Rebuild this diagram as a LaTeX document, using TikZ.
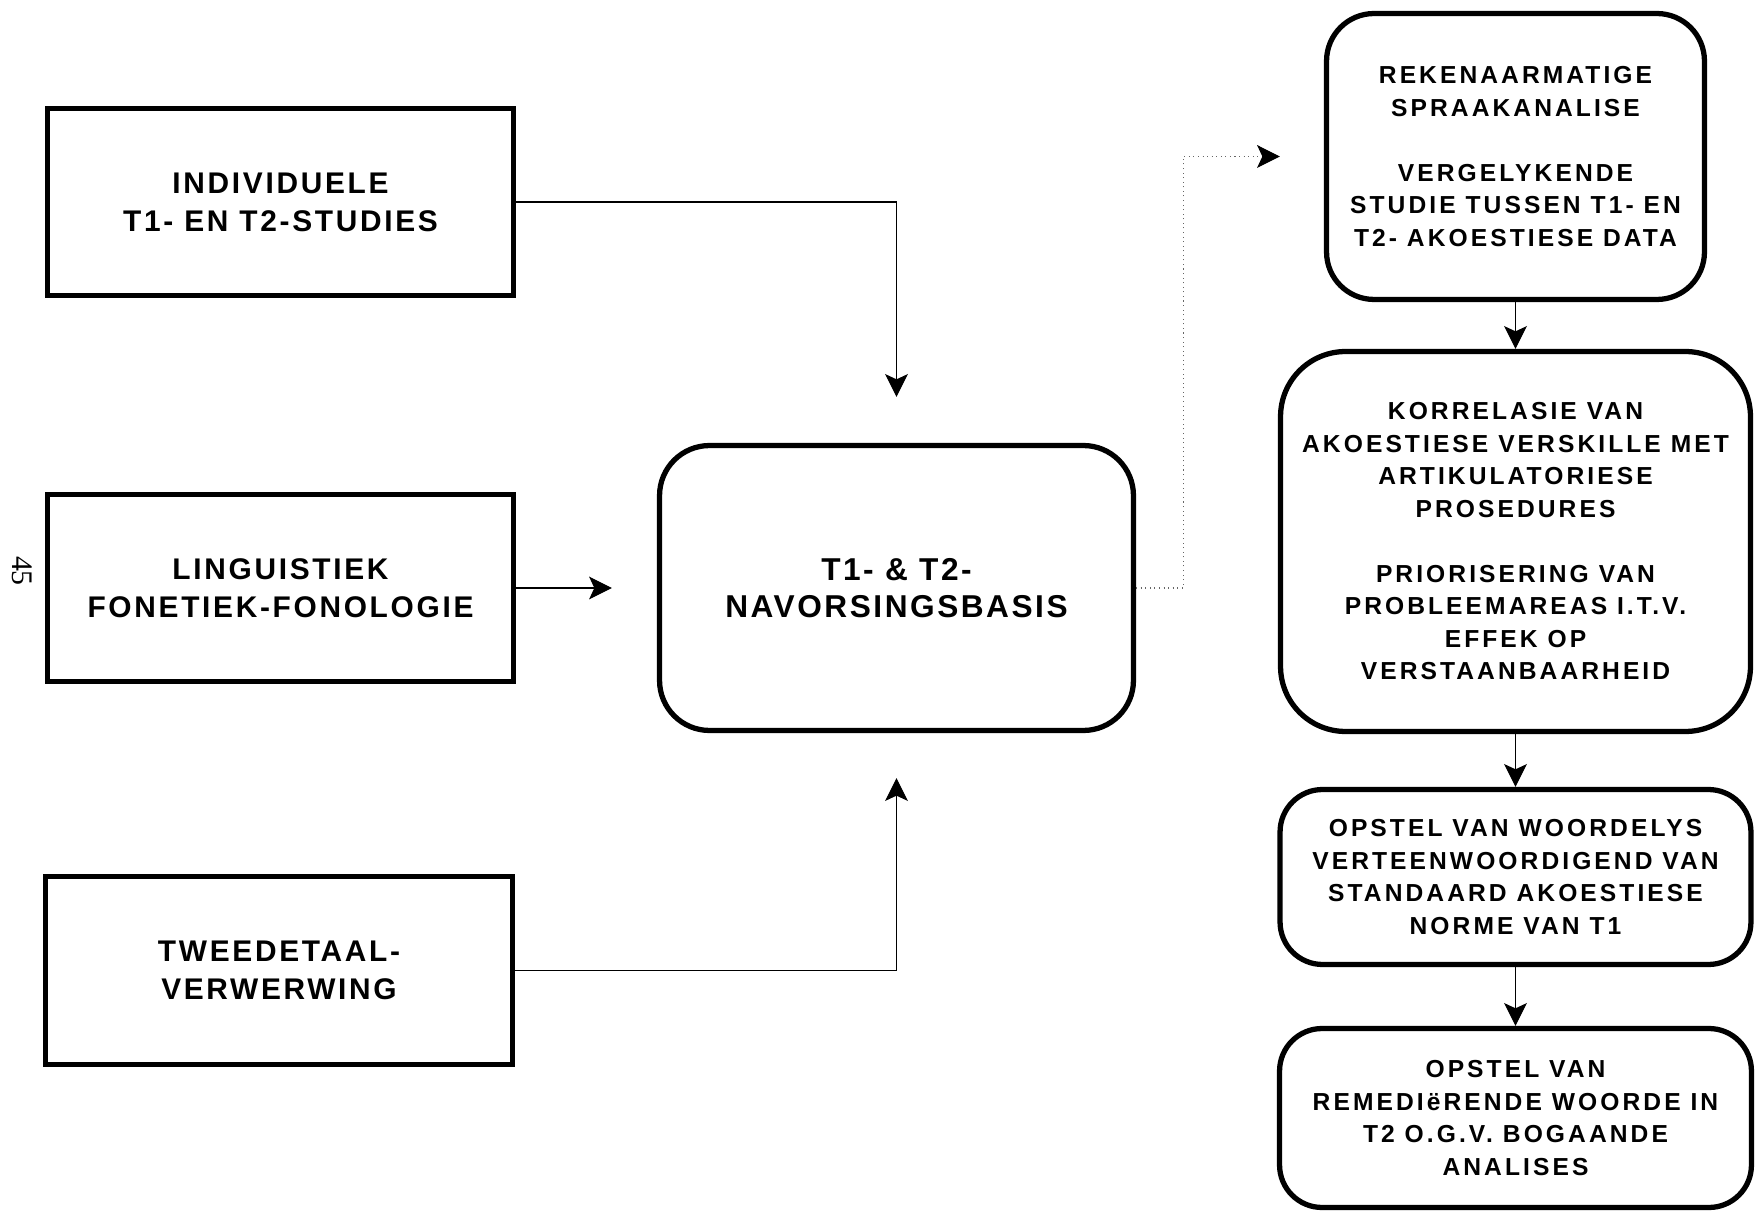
\documentclass[tikz,border=0pt]{standalone}
\usepackage{fontspec}
\setmainfont{Liberation Sans}
\newfontfamily\pagefont{Liberation Serif}
\newfontfamily\widefont[LetterSpace=12.5]{Liberation Sans}
\newfontfamily\tightfont[LetterSpace=9]{Liberation Sans}
\newfontfamily\midfont[LetterSpace=8]{Liberation Sans}
\usetikzlibrary{arrows.meta}

\begin{document}
\begin{tikzpicture}[x=0.02cm,y=-0.02cm,
    sqbox/.style={draw,line width=3pt,align=center,inner sep=0pt,
        font=\tightfont\bfseries\fontsize{17}{21.6}\selectfont},
    rbox/.style={draw,line width=3pt,align=center,inner sep=0pt,
        font=\widefont\bfseries\fontsize{14}{18.5}\selectfont},
    conn/.style={line width=0.6pt,-{Stealth[length=13pt,width=13pt,inset=3pt,color=black]}},
    dotconn/.style={conn,dotted,black!60}]
    \useasboundingbox (0,0) rectangle (1755,1212);
    \node[rotate=-90,font=\pagefont\fontsize{17}{17}\selectfont] (pagenr) at (22,571) {45};
    \node[sqbox,minimum width=9.32cm,minimum height=3.74cm] (b1) at (280.5,202)
        {INDIVIDUELE\\T1- EN T2-STUDIES};
    \node[sqbox,minimum width=9.32cm,minimum height=3.74cm] (b2) at (280.5,588)
        {LINGUISTIEK\\FONETIEK-FONOLOGIE};
    \node[sqbox,minimum width=9.34cm,minimum height=3.76cm] (b3) at (279,970.5)
        {TWEEDETAAL-\\VERWERWING};
    \node[rbox,rounded corners=1cm,minimum width=9.48cm,minimum height=5.7cm,
        font=\midfont\bfseries\fontsize{18}{21}\selectfont] (centre) at (896.5,588)
        {T1- \& T2-\\NAVORSINGSBASIS};
    \node[rbox,rounded corners=0.95cm,minimum width=7.56cm,minimum height=5.72cm] (r1) at (1515.5,156.5)
        {REKENAARMATIGE\\SPRAAKANALISE\\[18.5pt]VERGELYKENDE\\STUDIE TUSSEN T1- EN\\T2- AKOESTIESE DATA};
    \node[rbox,rounded corners=1.3cm,minimum width=9.4cm,minimum height=7.6cm] (r2) at (1515.5,541.5)
        {KORRELASIE VAN\\AKOESTIESE VERSKILLE MET\\ARTIKULATORIESE\\PROSEDURES\\[18.5pt]PRIORISERING VAN\\PROBLEEMAREAS I.T.V.\\EFFEK OP\\VERSTAANBAARHEID};
    \node[rbox,rounded corners=0.85cm,minimum width=9.42cm,minimum height=3.5cm] (r3) at (1515.5,877)
        {OPSTEL VAN WOORDELYS\\VERTEENWOORDIGEND VAN\\STANDAARD AKOESTIESE\\NORME VAN T1};
    \node[rbox,rounded corners=0.85cm,minimum width=9.44cm,minimum height=3.58cm] (r4) at (1515.5,1118)
        {OPSTEL VAN\\REMEDIëRENDE WOORDE IN\\T2 O.G.V. BOGAANDE\\ANALISES};
    \draw[conn] (b1.east) -| ([yshift=0.92cm]centre.north);
    \draw[conn] (b2.east) -- ([xshift=-0.9cm]centre.west);
    \draw[conn] (b3.east) -| ([yshift=-0.9cm]centre.south);
    \draw[dotconn] (centre.east) -- ++(47,0) |- ([xshift=-0.88cm]r1.west);
    \draw[conn] (r1.south) -- (r2.north);
    \draw[conn] (r2.south) -- (r3.north);
    \draw[conn] (r3.south) -- (r4.north);
\end{tikzpicture}
\end{document}
